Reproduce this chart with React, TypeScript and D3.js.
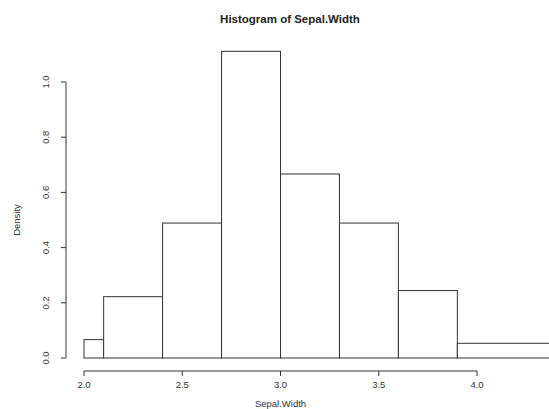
import React from "react";
import * as d3 from "d3";

const width = 549;
const height = 409;

// histogram of iris Sepal.Width, unequal breaks, density scale
const binStarts = [2.0, 2.1, 2.4, 2.7, 3.0, 3.3, 3.6, 3.9];
const binEnds = [2.1, 2.4, 2.7, 3.0, 3.3, 3.6, 3.9, 4.4];
const densities = [0.0667, 0.2222, 0.4889, 1.1111, 0.6667, 0.4889, 0.2444, 0.0533];
const xTicks = [2.0, 2.5, 3.0, 3.5, 4.0];
const yTicks = [0.0, 0.2, 0.4, 0.6, 0.8, 1.0];

const font = "'Liberation Sans', Arial, sans-serif";
const ink = "#333";

export default function App() {
  const x = d3.scaleLinear().domain([2.0, 4.0]).range([84, 477]);
  const y = d3.scaleLinear().domain([0, 1.0]).range([358, 82]);

  const bars = binStarts.map((s, i) => (
    <rect
      key={i}
      x={x(s)}
      y={y(densities[i])}
      width={x(binEnds[i]) - x(s)}
      height={y(0) - y(densities[i])}
      fill="white"
      stroke={ink}
      strokeWidth={1}
    />
  ));

  const axisY = 371;
  const axisX = 66;

  return (
    <svg
      width={width}
      height={height}
      style={{ position: "absolute", left: 0, top: 0, background: "white" }}
    >
      <text
        x={290}
        y={23}
        textAnchor="middle"
        fontFamily={font}
        fontWeight="bold"
        fontSize={11.5}
        fill="#222"
      >
        Histogram of Sepal.Width
      </text>
      {bars}
      {/* x axis */}
      <line x1={x(2.0)} x2={x(4.0)} y1={axisY} y2={axisY} stroke={ink} />
      {xTicks.map((t, i) => (
        <g key={i}>
          <line x1={x(t)} x2={x(t)} y1={axisY} y2={axisY + 5} stroke={ink} />
          <text
            x={x(t)}
            y={axisY + 17}
            textAnchor="middle"
            fontFamily={font}
            fontSize={9.5}
            fill="#333"
          >
            {t.toFixed(1)}
          </text>
        </g>
      ))}
      <text
        x={x(3.0)}
        y={407}
        textAnchor="middle"
        fontFamily={font}
        fontSize={9.5}
        fill="#333"
      >
        Sepal.Width
      </text>
      {/* y axis */}
      <line x1={axisX} x2={axisX} y1={y(0)} y2={y(1)} stroke={ink} />
      {yTicks.map((t, i) => (
        <g key={i}>
          <line x1={axisX - 5} x2={axisX} y1={y(t)} y2={y(t)} stroke={ink} />
          <text
            transform={`translate(${axisX - 17},${y(t)}) rotate(-90)`}
            textAnchor="middle"
            fontFamily={font}
            fontSize={9.5}
            fill="#333"
          >
            {t.toFixed(1)}
          </text>
        </g>
      ))}
      <text
        transform={`translate(20,${(y(0) + y(1)) / 2}) rotate(-90)`}
        textAnchor="middle"
        fontFamily={font}
        fontSize={9.5}
        fill="#333"
      >
        Density
      </text>
    </svg>
  );
}
